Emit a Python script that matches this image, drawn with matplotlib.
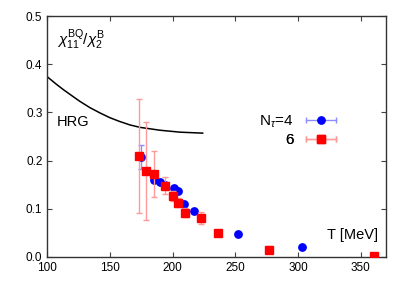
import numpy as np
import matplotlib
matplotlib.use('Agg')
import matplotlib.pyplot as plt
from matplotlib.lines import Line2D
from matplotlib.legend_handler import HandlerLine2D, HandlerTuple

plt.rcParams['font.family'] = ['Liberation Sans', 'DejaVu Sans']
plt.rcParams['mathtext.fontset'] = 'custom'
plt.rcParams['mathtext.rm'] = 'Liberation Sans'
plt.rcParams['mathtext.it'] = 'Liberation Sans:italic'

# HRG curve
hrg_T = [100, 107, 113, 120, 126, 134, 142, 150, 158, 166, 174, 190, 206, 224]
hrg_val = [0.374, 0.359, 0.347, 0.334, 0.323, 0.310, 0.299, 0.289, 0.281,
           0.274, 0.269, 0.263, 0.259, 0.257]

# N_tau = 4
nt4_T = [175, 185, 190, 194, 201, 204, 209, 217, 252, 303]
nt4_val = [0.208, 0.159, 0.156, 0.149, 0.144, 0.137, 0.110, 0.095, 0.047, 0.021]
nt4_err = [0.025, 0.004, 0.004, 0.004, 0.004, 0.004, 0.003, 0.003, 0.002, 0.002]

# N_tau = 6
nt6_T = [173, 179, 185, 194, 200, 204, 210, 223, 236, 277, 361]
nt6_val = [0.210, 0.178, 0.172, 0.148, 0.127, 0.113, 0.092, 0.081, 0.050, 0.015, 0.003]
nt6_err = [0.118, 0.102, 0.047, 0.018, 0.010, 0.010, 0.010, 0.013, 0.007, 0.007, 0.004]

blue, blue_light = '#0000ff', '#8c8cff'
red, red_light = '#ff0000', '#ff9a9a'

fig = plt.figure(figsize=(4.09, 2.86), dpi=100)
ax = fig.add_axes([0.1155, 0.1014, 0.8275, 0.8426])

ax.plot(hrg_T, hrg_val, color='black', lw=1.1)

ax.errorbar(nt4_T, nt4_val, yerr=nt4_err, fmt='o', color=blue, ms=5.3,
            ecolor=blue_light, elinewidth=1, capsize=2, zorder=3)
ax.errorbar(nt6_T, nt6_val, yerr=nt6_err, fmt='s', color=red, ms=5.8,
            ecolor=red_light, elinewidth=1, capsize=2, zorder=4)

ax.set_xlim(100, 370)
ax.set_ylim(0, 0.5)
ax.set_xticks([100, 150, 200, 250, 300, 350])
ax.set_yticks([0, 0.1, 0.2, 0.3, 0.4, 0.5])
ax.yaxis.set_major_formatter(matplotlib.ticker.FormatStrFormatter('%.1f'))
ax.tick_params(direction='in', top=True, right=True, length=3.5,
               labelsize=8.5, color='#444444', width=0.8)
for s in ax.spines.values():
    s.set_color('#333333')
    s.set_linewidth(1.0)

ax.text(0.029, 0.90, r'$\chi_{\mathrm{11}}^{\mathrm{BQ}}/\chi_{\mathrm{2}}^{\mathrm{B}}$',
        transform=ax.transAxes, fontsize=11, va='center', ha='left')
ax.text(0.029, 0.56, 'HRG', transform=ax.transAxes, fontsize=10.5,
        va='center', ha='left')
ax.text(0.976, 0.091, 'T [MeV]', transform=ax.transAxes, fontsize=10.5,
        va='center', ha='right')

# legend: two one-entry legends so labels are right aligned
labels = [r'N$_\tau$=4', '6']
styles = [('o', blue, blue_light, 5.3), ('s', red, red_light, 5.8)]
rows_y = [1 - 121.7 / 286, 1 - 140.0 / 286]
for lab, (mk, c, cl, ms), yy in zip(labels, styles, rows_y):
    bar = Line2D([], [], color=cl, lw=1, marker='|', ms=4, mew=1)
    dot = Line2D([], [], color=c, ls='none', marker=mk, ms=ms)
    leg = ax.legend([(bar, dot)], [lab], loc='center right',
                    bbox_to_anchor=(341 / 409, yy), bbox_transform=fig.transFigure,
                    frameon=False, markerfirst=False, fontsize=11,
                    borderpad=0, borderaxespad=0, handlelength=2.6,
                    handletextpad=0.5,
                    handler_map={bar: HandlerLine2D(numpoints=2),
                                 dot: HandlerLine2D(numpoints=1),
                                 tuple: HandlerTuple(ndivide=1, pad=0)})
    ax.add_artist(leg)

fig.savefig('out.png', dpi=100)
